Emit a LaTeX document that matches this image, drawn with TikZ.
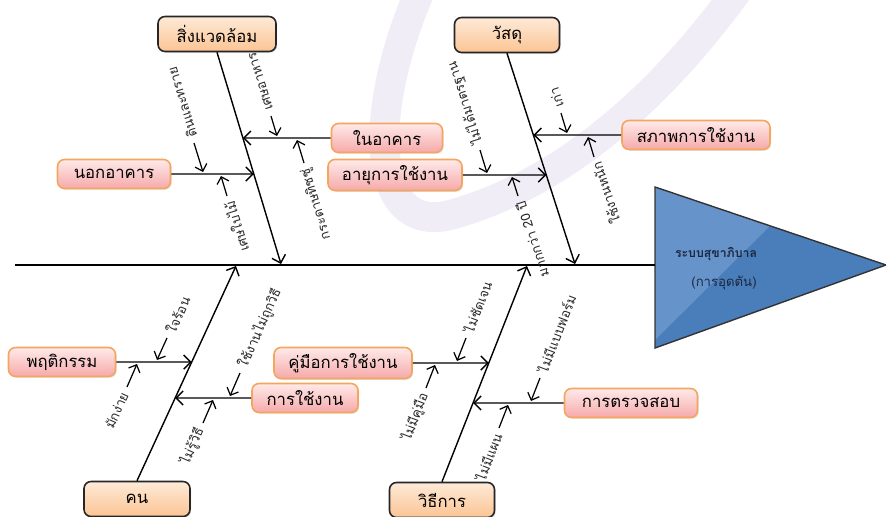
\documentclass[tikz,border=0pt]{standalone}
\usepackage{fontspec}
\setmainfont[Script=Thai]{Loma}
\usetikzlibrary{positioning, calc, arrows.meta, shadows}

\definecolor{peachtop}{HTML}{FEEAD8}
\definecolor{peachbot}{HTML}{FBC493}
\definecolor{pinktop}{HTML}{FFEAEA}
\definecolor{pinkbot}{HTML}{F6A9A9}
\definecolor{pinkline}{HTML}{F4A55E}
\definecolor{headblue}{HTML}{4A7EBB}
\definecolor{headlight}{HTML}{6694CA}
\definecolor{headtext}{HTML}{1C2740}
\definecolor{wmark}{HTML}{F0EDF7}

\tikzset{
  catbox/.style={draw=black!85, line width=0.9pt, rounded corners=4pt,
    top color=peachtop, bottom color=peachbot, minimum height=0.7cm,
    font=\fontsize{9.5}{12}\selectfont,
    drop shadow={opacity=0.3, shadow xshift=0.7pt, shadow yshift=-0.7pt}},
  subbox/.style={draw=pinkline, line width=0.9pt, rounded corners=4pt,
    top color=pinktop, bottom color=pinkbot, minimum height=0.58cm,
    font=\fontsize{9.5}{12}\selectfont,
    drop shadow={opacity=0.25, shadow xshift=0.7pt, shadow yshift=-0.7pt}},
  cause/.style={font=\fontsize{7.5}{9}\selectfont, text=black!85, inner sep=1pt},
  bone/.style={line width=0.8pt, -{Straight Barb[length=4pt,width=8pt]}},
  twig/.style={line width=0.7pt, -{Straight Barb[length=3.5pt,width=7pt]}}
}

\begin{document}
\begin{tikzpicture}[x=0.02cm, y=-0.02cm]
\useasboundingbox (0,0) rectangle (886,517);

% watermark
\draw[wmark, line width=0.6cm, line cap=round] (425,-20) .. controls (365,110) and (370,235) .. (450,215) .. controls (560,185) and (660,100) .. (745,-20);

% head
\fill[headblue] (655,187) -- (886,265) -- (655,348) -- cycle;
\fill[headlight] (655,187) -- (770,226) -- (655,340) -- cycle;
\draw[black!80, line width=0.8pt] (655,187) -- (886,265) -- (655,348) -- cycle;
\node[font=\fontsize{7}{9}\selectfont\bfseries, text=headtext] (effect) at (716,254) {ระบบสุขาภิบาล};
\node[font=\fontsize{7.5}{9}\selectfont, text=headtext] (effect2) at (724,283) {(การอุดตัน)};

% spine
\coordinate (spinetail) at (15,265);
\coordinate (spinehead) at (655,265);
\draw[line width=0.8pt] (spinetail) -- (spinehead);

% categories
\node[catbox, minimum width=2.36cm] (envbox) at (217,34) {สิ่งแวดล้อม};
\node[catbox, minimum width=2.1cm] (matbox) at (507,35) {วัสดุ};
\node[catbox, minimum width=2.12cm] (peoplebox) at (137,499) {คน};
\node[catbox, minimum width=2.1cm] (methodbox) at (442,500) {วิธีการ};

\coordinate (envtip) at (281,264);
\coordinate (mattip) at (575,264);
\coordinate (peopletip) at (236,266);
\coordinate (methodtip) at (527,266);

\draw[bone] (envbox.south) -- (envtip);
\draw[bone] (matbox.south) -- (mattip);
\draw[bone] (peoplebox.north) -- (peopletip);
\draw[bone] (methodbox.north) -- (methodtip);

% sub causes
\node[subbox, minimum width=2.26cm] (outbox) at (114,174) {นอกอาคาร};
\node[subbox, minimum width=2.22cm] (inbox) at (387,138) {ในอาคาร};
\node[subbox, minimum width=2.68cm] (agebox) at (395,175) {อายุการใช้งาน};
\node[subbox, minimum width=2.96cm] (condbox) at (696,135) {สภาพการใช้งาน};
\node[subbox, minimum width=2.14cm] (behavbox) at (62,362) {พฤติกรรม};
\node[subbox, minimum width=2.12cm] (usebox) at (305,398) {การใช้งาน};
\node[subbox, minimum width=2.76cm] (manualbox) at (343,363) {คู่มือการใช้งาน};
\node[subbox, minimum width=2.66cm] (checkbox) at (631,403) {การตรวจสอบ};

\draw[bone] (outbox.east) -- (intersection of envbox.south--envtip and outbox.west--outbox.east);
\draw[bone] (inbox.west) -- (intersection of envbox.south--envtip and inbox.west--inbox.east);
\draw[bone] (agebox.east) -- (intersection of matbox.south--mattip and agebox.west--agebox.east);
\draw[bone] (condbox.west) -- (intersection of matbox.south--mattip and condbox.west--condbox.east);
\draw[bone] (behavbox.east) -- (intersection of peoplebox.north--peopletip and behavbox.west--behavbox.east);
\draw[bone] (usebox.west) -- (intersection of peoplebox.north--peopletip and usebox.west--usebox.east);
\draw[bone] (manualbox.east) -- (intersection of methodbox.north--methodtip and manualbox.west--manualbox.east);
\draw[bone] (checkbox.west) -- (intersection of methodbox.north--methodtip and checkbox.west--checkbox.east);

% small causes, environment
\coordinate (c1tip) at (203,172); \coordinate (c1tail) at (194,143);
\draw[twig] (c1tail) -- (c1tip);
\node[cause, rotate=107, anchor=west] (c1) at (193,139) {ดินและทราย};
\coordinate (c2tip) at (221,176); \coordinate (c2tail) at (227,196);
\draw[twig] (c2tail) -- (c2tip);
\node[cause, rotate=107, anchor=east] (c2) at (228,200) {เศษใบไม้};
\coordinate (c3tip) at (277,136); \coordinate (c3tail) at (271,116);
\draw[twig] (c3tail) -- (c3tip);
\node[cause, rotate=107, anchor=west] (c3) at (270,112) {เศษอาหาร};
\coordinate (c4tip) at (297,140); \coordinate (c4tail) at (304,163);
\draw[twig] (c4tail) -- (c4tip);
\node[cause, rotate=107, anchor=east] (c4) at (305,167) {กระดาษทิชชู่};

% small causes, material
\coordinate (c5tip) at (487,173); \coordinate (c5tail) at (480,150);
\draw[twig] (c5tail) -- (c5tip);
\node[cause, rotate=108, anchor=west] (c5) at (479,146) {ไม่ได้มาตรฐาน};
\coordinate (c6tip) at (512,177); \coordinate (c6tail) at (518,196);
\draw[twig] (c6tail) -- (c6tip);
\node[cause, rotate=108, anchor=east] (c6) at (519,200) {มากกว่า 20 ปี};
\coordinate (c7tip) at (567,133); \coordinate (c7tail) at (561,113);
\draw[twig] (c7tail) -- (c7tip);
\node[cause, rotate=108, anchor=west] (c7) at (560,109) {เก่า};
\coordinate (c8tip) at (588,137); \coordinate (c8tail) at (594,157);
\draw[twig] (c8tail) -- (c8tip);
\node[cause, rotate=108, anchor=east] (c8) at (595,161) {ใช้งานหนัก};

% small causes, people
\coordinate (c9tip) at (157,360); \coordinate (c9tail) at (167,338);
\draw[twig] (c9tail) -- (c9tip);
\node[cause, rotate=66, anchor=west] (c9) at (169,334) {ใจร้อน};
\coordinate (c10tip) at (137,364); \coordinate (c10tail) at (127,387);
\draw[twig] (c10tail) -- (c10tip);
\node[cause, rotate=66, anchor=east] (c10) at (125,391) {มักง่าย};
\coordinate (c11tip) at (230,396); \coordinate (c11tail) at (240,373);
\draw[twig] (c11tail) -- (c11tip);
\node[cause, rotate=66, anchor=west] (c11) at (242,369) {ใช้งานไม่ถูกวิธี};
\coordinate (c12tip) at (213,400); \coordinate (c12tail) at (203,423);
\draw[twig] (c12tail) -- (c12tip);
\node[cause, rotate=66, anchor=east] (c12) at (201,427) {ไม่รู้วิธี};

% small causes, method
\coordinate (c13tip) at (457,361); \coordinate (c13tail) at (466,338);
\draw[twig] (c13tail) -- (c13tip);
\node[cause, rotate=69, anchor=west] (c13) at (467,334) {ไม่ชัดเจน};
\coordinate (c14tip) at (435,365); \coordinate (c14tail) at (426,388);
\draw[twig] (c14tail) -- (c14tip);
\node[cause, rotate=69, anchor=east] (c14) at (425,392) {ไม่มีคู่มือ};
\coordinate (c15tip) at (531,401); \coordinate (c15tail) at (540,378);
\draw[twig] (c15tail) -- (c15tip);
\node[cause, rotate=69, anchor=west] (c15) at (541,374) {ไม่มีแบบฟอร์ม};
\coordinate (c16tip) at (508,405); \coordinate (c16tail) at (499,428);
\draw[twig] (c16tail) -- (c16tip);
\node[cause, rotate=69, anchor=east] (c16) at (498,432) {ไม่มีแผน};
\end{tikzpicture}
\end{document}
